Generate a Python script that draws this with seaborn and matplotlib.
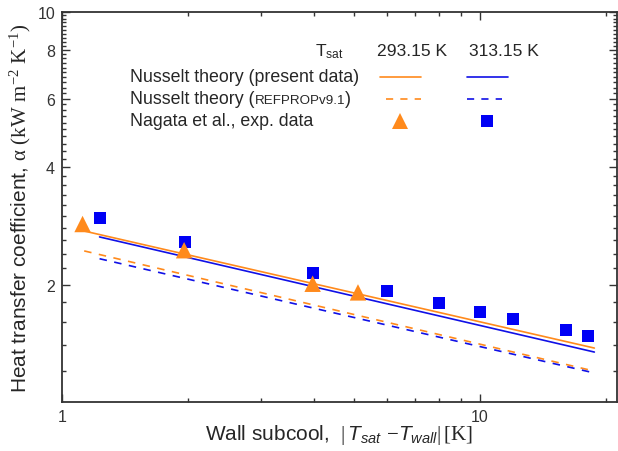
import numpy as np
import pandas as pd
import matplotlib
matplotlib.use("Agg")
import matplotlib.pyplot as plt
from matplotlib.ticker import FixedLocator, NullFormatter, FixedFormatter
from matplotlib.lines import Line2D
import seaborn as sns

# Nagata et al. experimental heat transfer coefficients [kW m^-2 K^-1]
exp_293_dt = [1.12, 1.96, 3.98, 5.11]
exp_293_alpha = [2.86, 2.45, 2.01, 1.91]
exp_313_dt = [1.23, 1.97, 3.98, 5.99, 7.98, 10.0, 12.0, 16.1, 18.2]
exp_313_alpha = [2.96, 2.57, 2.14, 1.93, 1.79, 1.70, 1.63, 1.53, 1.48]

# Nusselt film condensation theory (power law, straight on log-log axes)
nus_293_dt = [1.12, 18.8]
nus_293_alpha = [2.75, 1.375]
nus_313_dt = [1.23, 18.8]
nus_313_alpha = [2.65, 1.343]
ref_293_dt = [1.13, 18.8]
ref_293_alpha = [2.44, 1.20]
ref_313_dt = [1.23, 18.8]
ref_313_alpha = [2.33, 1.187]

temps = ["293.15 K", "313.15 K"]
y_major = [2, 4, 6, 8, 10]
x_major = [1, 10]

ORANGE = "#FF8A1C"
BLUE_LINE = "#1010E6"
BLUE_MARK = "#0000F5"
TXT = "#262626"

sns.set_style("ticks")
plt.rcParams["font.family"] = ["Liberation Sans", "DejaVu Sans"]
plt.rcParams["mathtext.fontset"] = "custom"
plt.rcParams["mathtext.rm"] = "Liberation Serif"
plt.rcParams["mathtext.it"] = "Liberation Sans:italic"
plt.rcParams["mathtext.sf"] = "Liberation Sans"
plt.rcParams["mathtext.bf"] = "Liberation Sans:bold"
plt.rcParams["text.color"] = TXT
plt.rcParams["axes.labelcolor"] = TXT
plt.rcParams["xtick.color"] = "#333333"
plt.rcParams["ytick.color"] = "#333333"

fig = plt.figure(figsize=(6.18, 4.52), dpi=100)
ax = fig.add_axes([62 / 618, 1 - 403 / 452, 555 / 618, 390 / 452])

theory = pd.concat([
    pd.DataFrame({"dt": nus_293_dt, "alpha": nus_293_alpha, "set": "nus293"}),
    pd.DataFrame({"dt": nus_313_dt, "alpha": nus_313_alpha, "set": "nus313"}),
    pd.DataFrame({"dt": ref_293_dt, "alpha": ref_293_alpha, "set": "ref293"}),
    pd.DataFrame({"dt": ref_313_dt, "alpha": ref_313_alpha, "set": "ref313"}),
])
styles = {
    "nus293": (ORANGE, "-"),
    "nus313": (BLUE_LINE, "-"),
    "ref293": (ORANGE, (0, (4.5, 4.5))),
    "ref313": (BLUE_LINE, (0, (4.5, 4.5))),
}
for key, (col, ls) in styles.items():
    sub = theory[theory["set"] == key]
    sns.lineplot(data=sub, x="dt", y="alpha", ax=ax, color=col,
                 linestyle=ls, linewidth=1.2, legend=False, sort=False)

exp293 = pd.DataFrame({"dt": exp_293_dt, "alpha": exp_293_alpha})
exp313 = pd.DataFrame({"dt": exp_313_dt, "alpha": exp_313_alpha})
sns.scatterplot(data=exp313, x="dt", y="alpha", ax=ax, marker="s",
                s=75, color=BLUE_MARK, edgecolor="none", zorder=4)
sns.scatterplot(data=exp293, x="dt", y="alpha", ax=ax, marker="^",
                s=140, color=ORANGE, edgecolor="none", zorder=5)

ax.set_xscale("log")
ax.set_yscale("log")
ax.set_xlim(1, 21.3)
ax.set_ylim(1, 10)

ax.xaxis.set_major_locator(FixedLocator(x_major))
ax.xaxis.set_major_formatter(FixedFormatter([str(v) for v in x_major]))
ax.xaxis.set_minor_locator(FixedLocator([2, 3, 4, 5, 6, 7, 8, 9, 20]))
ax.xaxis.set_minor_formatter(NullFormatter())
ax.yaxis.set_major_locator(FixedLocator(y_major))
ax.yaxis.set_major_formatter(FixedFormatter([str(v) for v in y_major]))
minor_y = [v for v in np.round(np.arange(1.2, 10.0, 0.2), 1) if v not in y_major]
ax.yaxis.set_minor_locator(FixedLocator(minor_y))
ax.yaxis.set_minor_formatter(NullFormatter())

ax.tick_params(which="both", direction="in", top=True, right=True,
               labelsize=11.5, width=1.0)
ax.tick_params(which="major", length=5.5, pad=5)
ax.tick_params(which="minor", length=3)
for sp in ax.spines.values():
    sp.set_color("#333333")
    sp.set_linewidth(1.3)

ax.set_xlabel(r"Wall subcool, $\ |\,T_{sat}\ {-}T_{wall}|\,\mathrm{[K]}$",
              fontsize=15)
ax.set_ylabel(r"Heat transfer coefficient, $\mathrm{\alpha\ (kW\ m^{-2}\ K^{-1})}$",
              fontsize=15)
ax.xaxis.set_label_coords(0.5, -0.052)
ax.yaxis.set_label_coords(-0.052, 0.5)

# Table-style legend in axes fraction coordinates
def fx(px):
    return (px - 62) / 555

def fy(py):
    return (403 - py) / 390

tr = ax.transAxes
ax.text(fx(315), fy(52), r"$\mathsf{T}_{\mathsf{sat}}$", transform=tr,
        fontsize=12.5, ha="left", va="center")
ax.text(fx(377), fy(52), temps[0], transform=tr, fontsize=12.6,
        ha="left", va="center")
ax.text(fx(469), fy(52), temps[1], transform=tr, fontsize=12.6,
        ha="left", va="center")

ROW_FS = 12.8
ax.text(fx(130), fy(77), "Nusselt theory (present data)", transform=tr,
        fontsize=ROW_FS, ha="left", va="center")
t2 = ax.text(fx(130), fy(100), "Nusselt theory (", transform=tr,
             fontsize=ROW_FS, ha="left", va="center")
fig.canvas.draw()
bb = t2.get_window_extent()
x_end = ax.transAxes.inverted().transform((bb.x1, bb.y0))[0]
t3 = ax.text(x_end, fy(100.5), "REFPROPv9.1", transform=tr, fontsize=9.6,
             ha="left", va="center")
fig.canvas.draw()
bb3 = t3.get_window_extent()
x_end3 = ax.transAxes.inverted().transform((bb3.x1, bb3.y0))[0]
ax.text(x_end3, fy(100), ")", transform=tr, fontsize=ROW_FS,
        ha="left", va="center")
ax.text(fx(130), fy(122), "Nagata et al., exp. data", transform=tr,
        fontsize=ROW_FS, ha="left", va="center")

ax.add_line(Line2D([fx(380), fx(421)], [fy(78), fy(78)], transform=tr,
                   color=ORANGE, lw=1.2))
ax.add_line(Line2D([fx(467), fx(508)], [fy(78), fy(78)], transform=tr,
                   color=BLUE_LINE, lw=1.2))
ax.add_line(Line2D([fx(386), fx(421)], [fy(100), fy(100)], transform=tr,
                   color=ORANGE, lw=1.2, linestyle=(0, (4.3, 4.3))))
ax.add_line(Line2D([fx(467), fx(502)], [fy(100), fy(100)], transform=tr,
                   color=BLUE_LINE, lw=1.2, linestyle=(0, (4.3, 4.3))))
ax.add_line(Line2D([fx(400)], [fy(122)], transform=tr, marker="^",
                   markersize=11.5, color=ORANGE, markeredgewidth=0, lw=0))
ax.add_line(Line2D([fx(487)], [fy(122)], transform=tr, marker="s",
                   markersize=8.3, color=BLUE_MARK, markeredgewidth=0, lw=0))

fig.savefig("out.png", dpi=100)
